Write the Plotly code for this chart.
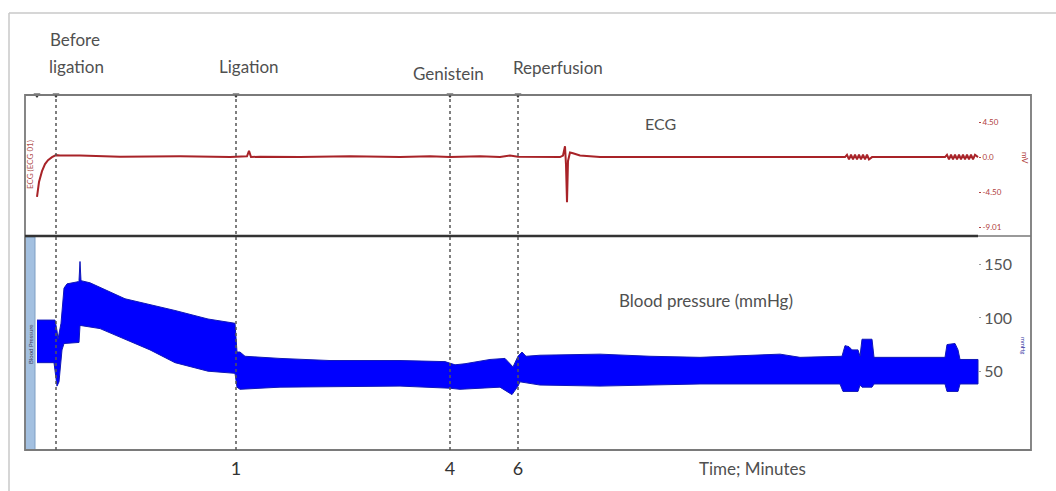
import plotly.graph_objects as go

# ---------------- data (recording position units along the trace) ----------------
# ECG trace (mV)
ecg_t = [37, 39, 42, 45, 48, 52, 56, 60, 80, 120, 180, 230, 247, 249, 251, 260, 300, 350, 400,
         430, 450, 480, 500, 510, 518, 540, 560, 563, 565, 566, 567, 568, 570, 573, 580, 600,
         650, 700, 750, 800, 845, 847, 849, 851, 853, 855, 857, 859, 861, 863, 865, 867, 869, 872, 900, 940,
         945, 947, 949, 951, 953, 955, 957, 959, 961, 963, 965, 967, 969, 971, 973, 975, 978]
ecg_mv = [-5.1, -3.2, -1.8, -0.9, -0.4, 0.0, 0.25, 0.2, 0.2, 0.05, 0.1, 0.0, 0.1, 0.8, 0.0, 0.05, 0.0, 0.1, 0.0,
          0.1, 0.0, 0.1, 0.0, 0.2, 0.05, 0.0, 0.0, 0.2, 1.4, -1.0, -5.8, -0.5, 0.6, 0.5, 0.2, 0.0,
          0.0, -0.05, 0.0, 0.0, 0.0, 0.3, -0.3, 0.3, -0.3, 0.3, -0.3, 0.3, -0.3, 0.3, -0.3, 0.3, -0.3, 0.0, 0.0, 0.0,
          0.0, 0.3, -0.3, 0.3, -0.3, 0.3, -0.3, 0.3, -0.3, 0.3, -0.3, 0.3, -0.3, 0.3, -0.3, 0.3, 0.0]

# Blood pressure envelope (mmHg): upper (systolic) and lower (diastolic)
bp_up_t = [37, 55, 57, 58, 61, 64, 67, 78, 79, 80, 81, 90, 125, 175, 208, 235, 237, 240, 245, 280,
           330, 400, 445, 455, 465, 490, 505, 513, 518, 522, 526, 540, 600, 650, 700, 780, 800,
           842, 845, 849, 852, 858, 860, 862, 872, 874, 945, 947, 955, 958, 960, 978]
bp_up = [98, 98, 88, 80, 95, 128, 132, 134, 135, 153, 135, 133, 118, 107, 99, 95, 68, 68, 64, 62,
         60, 60, 59, 56, 57, 61, 62, 54, 64, 68, 64, 65, 66, 64, 63, 66, 63,
         64, 74, 73, 70, 70, 64, 80, 80, 63, 63, 75, 76, 70, 61, 61]
bp_lo_t = [37, 54, 57, 59, 62, 64, 79, 80, 100, 125, 150, 175, 208, 235, 237, 240, 280, 400, 450,
           460, 500, 512, 518, 520, 540, 600, 700, 780, 840, 843, 858, 860, 862, 872, 874, 945,
           947, 958, 960, 978]
bp_lo = [58, 58, 36, 40, 70, 76, 77, 93, 90, 80, 70, 58, 50, 48, 35, 33, 35, 36, 34,
         33, 35, 28, 36, 40, 37, 36, 38, 38, 38, 31, 31, 37, 35, 35, 38, 38,
         31, 31, 38, 38]

# events
event_t = [37, 56, 236, 450, 518]
tick_t = [236, 450, 518]
tick_text = ["1", "4", "6"]
ecg_ticks = [4.5, 0.0, -4.5, -9.01]
ecg_ticktext = ["4.50", "0.0", "-4.50", "-9.01"]
bp_ticks = [50, 100, 150]

# ---------------- layout helpers (pixel -> paper) ----------------
W, H = 1056, 491
L, R, T, B = 25, 1031, 95, 450


def fx(px):
    return (px - L) / (R - L)


def fy(py):
    return (B - py) / (B - T)


ECG_RANGE = [-10.0, 7.97]
BP_RANGE = [-24, 176]
XR = [L, R]

fig = go.Figure()

# BP band
fig.add_trace(go.Scatter(
    x=bp_up_t + bp_lo_t[::-1], y=bp_up + bp_lo[::-1],
    fill="toself", fillcolor="#0000ff", mode="lines",
    line=dict(color="#1018b8", width=1), xaxis="x", yaxis="y2",
    hoverinfo="skip", showlegend=False))

# ECG
fig.add_trace(go.Scatter(
    x=ecg_t, y=ecg_mv, mode="lines", line=dict(color="#a82328", width=2),
    xaxis="x", yaxis="y", showlegend=False))

# event markers at top
fig.add_trace(go.Scatter(
    x=event_t, y=[ECG_RANGE[1]] * len(event_t), mode="markers",
    marker=dict(symbol="triangle-down", size=6, color="#333"),
    xaxis="x", yaxis="y", cliponaxis=False, showlegend=False))

shapes = []
# outer light frame
shapes.append(dict(type="line", xref="paper", yref="paper", x0=fx(9), x1=fx(1056), y0=fy(13), y1=fy(13),
                   line=dict(color="#c8c8c8", width=1.5)))
shapes.append(dict(type="line", xref="paper", yref="paper", x0=fx(9), x1=fx(9), y0=fy(13), y1=fy(491),
                   line=dict(color="#c8c8c8", width=1.5)))
# blue strip at left of BP panel
shapes.append(dict(type="rect", xref="paper", yref="paper", x0=fx(25), x1=fx(35), y0=0, y1=fy(237),
                   fillcolor="#a3c0e0", line=dict(color="#7f9fc4", width=1), layer="below"))
# plot box
shapes.append(dict(type="rect", xref="paper", yref="paper", x0=0, x1=1, y0=0, y1=1,
                   line=dict(color="#7a7a7a", width=1.8)))
# panel separator
shapes.append(dict(type="line", xref="paper", yref="paper", x0=0, x1=fx(978), y0=fy(236), y1=fy(236),
                   line=dict(color="#333", width=2.5)))
shapes.append(dict(type="line", xref="paper", yref="paper", x0=fx(978), x1=1, y0=fy(236), y1=fy(236),
                   line=dict(color="#777", width=1.5)))
# dotted event lines
for t in event_t[1:]:
    shapes.append(dict(type="line", xref="x", yref="paper", x0=t, x1=t, y0=0, y1=1,
                       line=dict(color="#555", width=1.5, dash="dot")))

font = "Lato, 'Open Sans', sans-serif"
ann = []


def A(text, px, py, size=17, color="#505050", angle=0, **kw):
    ann.append(dict(text=text, x=fx(px), y=fy(py), xref="paper", yref="paper", showarrow=False,
                    font=dict(family=font, size=size, color=color), textangle=angle,
                    xanchor="center", yanchor="middle", **kw))


A("Before", 75, 40)
A("ligation", 76, 66)
A("Ligation", 249, 66)
A("Genistein", 448, 73)
A("Reperfusion", 558, 67)
A("ECG", 660, 123, size=16)
A("Blood pressure (mmHg)", 706, 300, size=17)
A("Time; Minutes", 752, 468, size=17)
A("mV", 1025, 158, size=8, color="#b04040", angle=90)
A("mmHg", 1024, 345, size=6, color="#3030a0", angle=90)
A("ECG (ECG 01)", 30, 165, size=8, color="#b05050", angle=-90)
A("Blood Pressure", 30, 345, size=6, color="#404060", angle=-90)

fig.update_layout(
    width=W, height=H, margin=dict(l=L, r=W - R, t=T, b=H - B, autoexpand=False),
    paper_bgcolor="white", plot_bgcolor="white",
    xaxis=dict(range=XR, anchor="y2", showgrid=False, zeroline=False, showline=False,
               tickvals=tick_t, ticktext=tick_text, ticks="", automargin=False, ticklabelstandoff=6,
               tickfont=dict(family=font, size=18, color="#333")),
    yaxis=dict(domain=[fy(235), 1], range=ECG_RANGE, anchor="free", position=fx(978), side="right",
               showgrid=False, zeroline=False, showline=False, tickvals=ecg_ticks, ticktext=ecg_ticktext,
               ticks="outside", ticklen=2, tickcolor="#b04040", automargin=False,
               tickfont=dict(family=font, size=8, color="#b04040")),
    yaxis2=dict(domain=[0, fy(237)], range=BP_RANGE, anchor="free", position=fx(978), side="right",
                showgrid=False, zeroline=False, showline=False, tickvals=bp_ticks, automargin=False,
                ticks="outside", ticklen=2, tickcolor="#999",
                tickfont=dict(family=font, size=16, color="#555")),
    yaxis3=dict(overlaying="y", range=ECG_RANGE, anchor="free", position=fx(37), side="left",
                showgrid=False, zeroline=False, showline=True, linecolor="#333", linewidth=1.5,
                ticks="inside", ticklen=4, dtick=0.5, tick0=0, tickcolor="#555", showticklabels=False,
                automargin=False),
    yaxis4=dict(overlaying="y2", range=BP_RANGE, anchor="free", position=fx(37), side="left",
                showgrid=False, zeroline=False, showline=True, linecolor="#333", linewidth=1.5,
                ticks="inside", ticklen=4, dtick=5, tick0=0, tickcolor="#555", showticklabels=False,
                automargin=False),
    shapes=shapes, annotations=ann, showlegend=False,
)

fig.write_html("out.html", config={"displayModeBar": False},
               post_script="document.body.style.margin='0';document.body.style.overflow='hidden';")
